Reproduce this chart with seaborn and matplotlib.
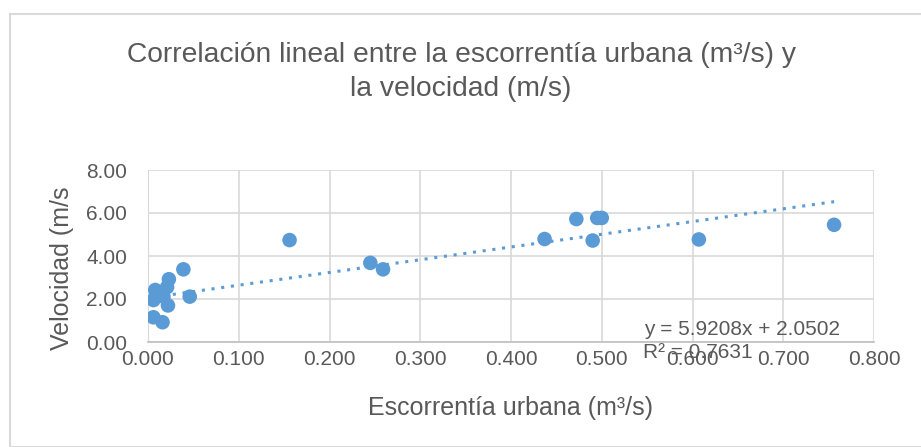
import matplotlib.pyplot as plt
import seaborn as sns
import pandas as pd
import numpy as np

# values
escorrentia = [0.156, 0.245, 0.259, 0.437, 0.472, 0.495, 0.500, 0.490, 0.607, 0.756,
               0.039, 0.023, 0.008, 0.021, 0.006, 0.022, 0.046, 0.006, 0.016, 0.017]
velocidad = [4.74, 3.68, 3.38, 4.79, 5.72, 5.77, 5.77, 4.72, 4.77, 5.45,
             3.38, 2.92, 2.42, 2.55, 1.95, 1.70, 2.11, 1.15, 0.92, 2.11]
pendiente = 5.9208
intercepto = 2.0502
r2 = 0.7631
x_ticks = [0.0, 0.1, 0.2, 0.3, 0.4, 0.5, 0.6, 0.7, 0.8]
y_ticks = [0.0, 2.0, 4.0, 6.0, 8.0]

df = pd.DataFrame({"x": escorrentia, "y": velocidad})

sns.set_style("white")
plt.rcParams['font.family'] = ['Liberation Sans', 'DejaVu Sans']

fig = plt.figure(figsize=(9.21, 4.47), dpi=100)
W, H = 921, 447
ax = fig.add_axes([148 / W, 1 - 342 / H, (874 - 148) / W, (342 - 170) / H])

azul = "#5B9BD5"
gris_txt = "#595959"

# trend line over the data range
xl = np.linspace(min(escorrentia), max(escorrentia), 50)
ax.plot(xl, pendiente * xl + intercepto, linestyle=(0, (1, 2.2)), color=azul, lw=2.2, zorder=2)

sns.scatterplot(data=df, x="x", y="y", ax=ax, color=azul, s=110, edgecolor="none", zorder=3)

ax.set_xlim(0, 0.8)
ax.set_ylim(0, 8)
ax.set_xticks(x_ticks)
ax.set_yticks(y_ticks)
ax.set_xticklabels([f"{v:.3f}" for v in x_ticks])
ax.set_yticklabels([f"{v:.2f}" for v in y_ticks])
ax.tick_params(axis="both", length=0, labelsize=15, colors=gris_txt)
ax.tick_params(axis="y", pad=15)
ax.tick_params(axis="x", pad=6)
ax.grid(True, color="#d9d9d9", lw=1.2)
for s in ["top", "right"]:
    ax.spines[s].set_visible(False)
ax.spines["left"].set_color("#d9d9d9")
ax.spines["bottom"].set_color("#bfbfbf")
ax.spines["bottom"].set_linewidth(1.2)

ax.set_xlabel("Escorrentía urbana (m³/s)", fontsize=18, color=gris_txt, va="center")
ax.xaxis.set_label_coords((510 - 148) / (874 - 148), -(408 - 342) / (342 - 170))
ax.set_ylabel("Velocidad (m/s", fontsize=18, color=gris_txt, va="center")
ax.yaxis.set_label_coords(-(148 - 62) / (874 - 148), (342 - 268) / (342 - 170))

fig.text(461 / W, 1 - 55 / H, "Correlación lineal entre la escorrentía urbana (m³/s) y",
         ha="center", va="center", fontsize=20.3, color=gris_txt)
fig.text(461 / W, 1 - 89 / H, "la velocidad (m/s)",
         ha="center", va="center", fontsize=20.3, color=gris_txt)

ax.text(0.763, 0.6, f"y = {pendiente}x + {intercepto}", ha="right", va="center",
        fontsize=15, color=gris_txt)
ax.text(0.606, -0.5, f"R² = {r2}", ha="center", va="center",
        fontsize=15, color=gris_txt)

# chart border
fig.patches.append(plt.Rectangle((10 / W, 0), 1, 1 - 14 / H, transform=fig.transFigure,
                                 fill=False, edgecolor="#d9d9d9", lw=1.5))

fig.savefig("out.png", dpi=100)
